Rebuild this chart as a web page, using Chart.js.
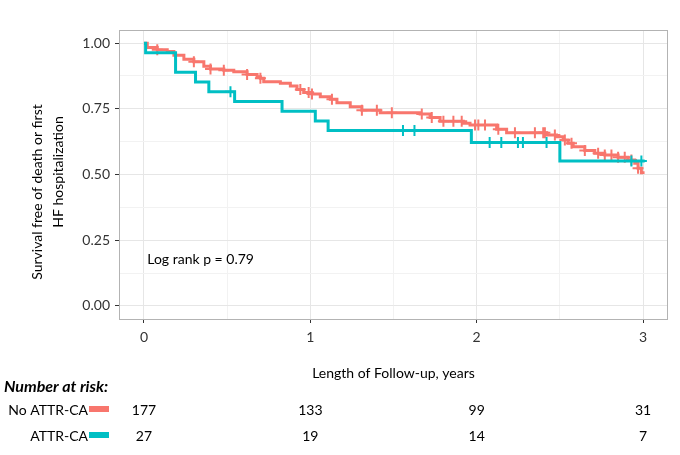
<!DOCTYPE html>
<html>
    <head>
        <title>Survival free of death or first HF hospitalization</title>
        <script src="https://cdn.jsdelivr.net/npm/chart.js@4/dist/chart.umd.min.js"></script>
        <style>
            html, body { margin: 0; padding: 0; background: #fff; }
            #wrap { position: relative; width: 680px; height: 455px; }
        </style>
    </head>
    <body>
        <div id="wrap"><canvas id="myChart" width="680" height="455"></canvas></div>
        <script>
            // Kaplan-Meier steps (time in years, survival)
            const noAttrTimes = [0, 0.02, 0.08, 0.14, 0.18, 0.24, 0.30, 0.36, 0.40, 0.48, 0.54, 0.62, 0.68, 0.70, 0.72, 0.82, 0.88, 0.92, 0.96, 1.01, 1.06, 1.12, 1.16, 1.24, 1.31, 1.42, 1.66, 1.72, 1.78, 1.92, 1.96, 2.12, 2.18, 2.42, 2.48, 2.52, 2.55, 2.58, 2.65, 2.71, 2.77, 2.85, 2.91, 2.95, 2.97, 2.99, 3.0];
            const noAttrSurv = [1.0, 0.983, 0.975, 0.968, 0.954, 0.939, 0.929, 0.912, 0.902, 0.897, 0.891, 0.881, 0.872, 0.866, 0.853, 0.847, 0.837, 0.824, 0.812, 0.806, 0.796, 0.786, 0.773, 0.758, 0.745, 0.735, 0.730, 0.717, 0.703, 0.695, 0.688, 0.672, 0.659, 0.650, 0.644, 0.631, 0.619, 0.606, 0.591, 0.581, 0.574, 0.566, 0.555, 0.543, 0.524, 0.507, 0.502];
            const attrTimes = [0, 0.01, 0.19, 0.31, 0.39, 0.545, 0.83, 1.03, 1.107, 1.968, 2.50, 3.01];
            const attrSurv = [1.0, 0.963, 0.889, 0.852, 0.815, 0.778, 0.741, 0.704, 0.667, 0.622, 0.551, 0.551];
            // censoring marks (time only)
            const noAttrCensor = [0.08, 0.30, 0.40, 0.48, 0.62, 0.70, 0.94, 0.99, 1.01, 1.13, 1.31, 1.40, 1.49, 1.67, 1.73, 1.80, 1.86, 1.91, 1.99, 2.01, 2.05, 2.13, 2.23, 2.35, 2.40, 2.41, 2.47, 2.53, 2.57, 2.65, 2.73, 2.77, 2.81, 2.85, 2.89, 2.93, 2.97];
            const attrCensor = [0.52, 1.557, 1.626, 2.078, 2.148, 2.248, 2.278, 2.42, 2.93, 2.99];

            const years = [0, 1, 2, 3];
            const riskNoAttr = [177, 133, 99, 31];
            const riskAttr = [27, 19, 14, 7];
            const yTicks = [0, 0.25, 0.5, 0.75, 1.0];

            const RED = '#F8766D';
            const TEAL = '#00BFC4';
            const FONT = 'Lato';

            function steps(times, surv) {
                return times.map((t, i) => ({x: t, y: surv[i]}));
            }
            // survival at time t on a step curve
            function survAt(times, surv, t) {
                let s = surv[0];
                for (let i = 0; i < times.length; i++) {
                    if (times[i] <= t) s = surv[i];
                }
                return s;
            }
            function marks(cens, times, surv) {
                return cens.map(t => ({x: t, y: survAt(times, surv, t)}));
            }

            const textPlugin = {
                id: 'kmText',
                afterDraw(chart) {
                    const ctx = chart.ctx;
                    const xs = chart.scales.x, ys = chart.scales.y;
                    const a = chart.chartArea;
                    ctx.save();
                    // panel border
                    ctx.strokeStyle = '#b3b3b3';
                    ctx.lineWidth = 1;
                    ctx.strokeRect(a.left + 0.5, a.top + 0.5, a.right - a.left - 1, a.bottom - a.top);

                    ctx.fillStyle = '#000';
                    ctx.font = '14px ' + FONT;
                    ctx.textBaseline = 'middle';
                    ctx.textAlign = 'left';
                    ctx.fillText('Log rank p = 0.79', xs.getPixelForValue(0.02), ys.getPixelForValue(0.175));

                    // axis titles
                    ctx.textAlign = 'center';
                    ctx.fillText('Length of Follow-up, years', (a.left + a.right) / 2, 373);
                    ctx.save();
                    ctx.translate(37, 192);
                    ctx.rotate(-Math.PI / 2);
                    ctx.fillText('Survival free of death or first', 0, 0);
                    ctx.restore();
                    ctx.save();
                    ctx.translate(58, 172);
                    ctx.rotate(-Math.PI / 2);
                    ctx.fillText('HF hospitalization', 0, 0);
                    ctx.restore();

                    // number at risk table
                    ctx.textAlign = 'left';
                    ctx.font = 'italic bold 16px ' + FONT;
                    ctx.fillText('Number at risk:', 4, 387);
                    ctx.font = '14px ' + FONT;
                    ctx.textAlign = 'right';
                    ctx.fillText('No ATTR-CA', 88, 410);
                    ctx.fillText('ATTR-CA', 88, 436);
                    ctx.fillStyle = RED;
                    ctx.fillRect(89, 406, 20, 6);
                    ctx.fillStyle = TEAL;
                    ctx.fillRect(89, 432, 20, 6);
                    ctx.fillStyle = '#000';
                    ctx.textAlign = 'center';
                    years.forEach((yr, i) => {
                        const px = xs.getPixelForValue(yr);
                        ctx.fillText(String(riskNoAttr[i]), px, 410);
                        ctx.fillText(String(riskAttr[i]), px, 436);
                    });
                    ctx.restore();
                }
            };

            const ctx = document.getElementById('myChart').getContext('2d');
            const chart = new Chart(ctx, {
                type: 'scatter',
                data: {
                    datasets: [
                        {
                            label: 'No ATTR-CA',
                            data: steps(noAttrTimes, noAttrSurv),
                            showLine: true,
                            stepped: true,
                            borderColor: RED,
                            borderWidth: 3,
                            pointRadius: 0,
                            order: 2
                        },
                        {
                            label: 'ATTR-CA',
                            data: steps(attrTimes, attrSurv),
                            showLine: true,
                            stepped: true,
                            borderColor: TEAL,
                            borderWidth: 3,
                            pointRadius: 0,
                            order: 1
                        },
                        {
                            label: 'No ATTR-CA censored',
                            data: marks(noAttrCensor, noAttrTimes, noAttrSurv),
                            pointStyle: 'cross',
                            pointRadius: 5.5,
                            borderColor: RED,
                            borderWidth: 2,
                            order: 2
                        },
                        {
                            label: 'ATTR-CA censored',
                            data: marks(attrCensor, attrTimes, attrSurv),
                            pointStyle: 'cross',
                            pointRadius: 5.5,
                            borderColor: TEAL,
                            borderWidth: 2,
                            order: 1
                        }
                    ]
                },
                options: {
                    responsive: false,
                    animation: false,
                    layout: { padding: { left: 0, right: 12, top: 30, bottom: 0 } },
                    plugins: { legend: { display: false }, tooltip: { enabled: false } },
                    scales: {
                        x: {
                            type: 'linear',
                            min: -0.15,
                            max: 3.15,
                            afterBuildTicks: s => { s.ticks = [0, 0.5, 1, 1.5, 2, 2.5, 3].map(v => ({value: v})); },
                            afterFit: s => { s.height = 136; },
                            ticks: {
                                font: { family: FONT, size: 14 },
                                color: '#333',
                                padding: 6,
                                maxRotation: 0,
                                callback: v => (Number.isInteger(v) ? String(v) : '')
                            },
                            grid: {
                                color: c => (Number.isInteger(c.tick.value) ? '#e6e6e6' : '#f2f2f2'),
                                tickColor: c => (Number.isInteger(c.tick.value) ? '#333' : 'rgba(0,0,0,0)'),
                                tickLength: 4,
                                lineWidth: 1
                            },
                            border: { display: false }
                        },
                        y: {
                            type: 'linear',
                            min: -0.05,
                            max: 1.05,
                            afterBuildTicks: s => { s.ticks = [0, 0.125, 0.25, 0.375, 0.5, 0.625, 0.75, 0.875, 1].map(v => ({value: v})); },
                            afterFit: s => { s.width = 119; },
                            ticks: {
                                font: { family: FONT, size: 14 },
                                color: '#333',
                                padding: 5,
                                callback: v => (yTicks.includes(v) ? v.toFixed(2) : '')
                            },
                            grid: {
                                color: c => (yTicks.includes(c.tick.value) ? '#e6e6e6' : '#f2f2f2'),
                                tickColor: c => (yTicks.includes(c.tick.value) ? '#333' : 'rgba(0,0,0,0)'),
                                tickLength: 4,
                                lineWidth: 1
                            },
                            border: { display: false }
                        }
                    }
                },
                plugins: [textPlugin]
            });
        </script>
    </body>
</html>
